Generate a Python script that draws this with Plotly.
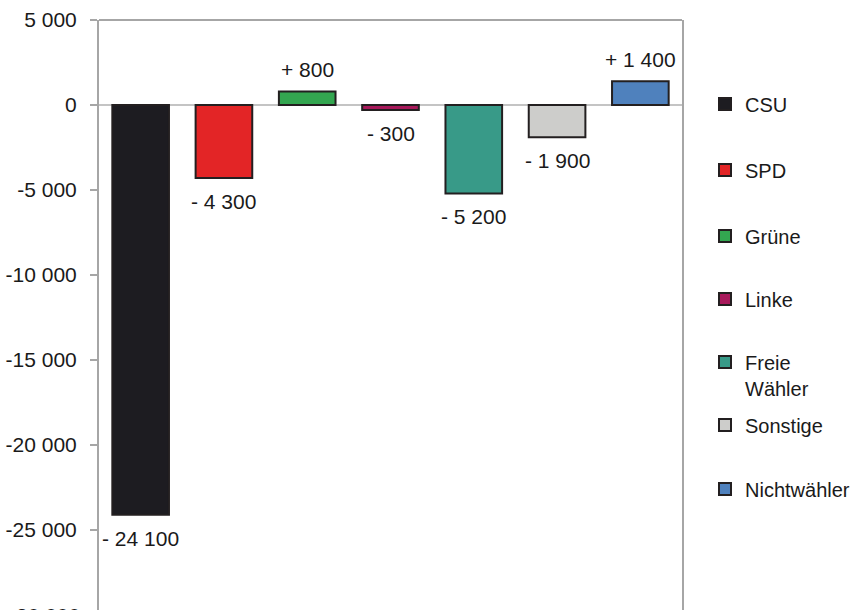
import plotly.graph_objects as go

# ---- data ----
parties = ["CSU", "SPD", "Grüne", "Linke", "Freie Wähler", "Sonstige", "Nichtwähler"]
legend_names = ["CSU", "SPD", "Grüne", "Linke", "Freie<br>Wähler", "Sonstige", "Nichtwähler"]
values = [-24100, -4300, 800, -300, -5200, -1900, 1400]
value_labels = ["- 24 100", "- 4 300", "+ 800", "- 300", "- 5 200", "- 1 900", "+ 1 400"]
tick_vals = [5000, 0, -5000, -10000, -15000, -20000, -25000, -30000]
tick_text = ["5 000", "0", "-5 000", "-10 000", "-15 000", "-20 000", "-25 000", "-30 000"]

# ---- styles ----
colors = ["#1d1c21", "#e32526", "#33a650", "#a8195b", "#389a88", "#cdcdcb", "#4f81bd"]
FONT = "Liberation Sans, Arial, sans-serif"
FS = 21
LFS = 20
TXT = "#1a1a1a"
AXC = "#a6a6a6"
W, H = 856, 610
M_L, M_R, M_T, M_B = 99, 174, 20, 0
plot_h = H - M_T - M_B
legend_y_px = [104, 170, 236, 299, 375, 425, 489]

fig = go.Figure()
for i, (p, v, c) in enumerate(zip(parties, values, colors)):
    lg = "legend" if i == 0 else f"legend{i+1}"
    fig.add_trace(go.Bar(
        x=[p], y=[v], name=legend_names[i], width=0.68,
        marker=dict(color=c, line=dict(color="#231f20", width=2)),
        legend=lg, hoverinfo="skip",
    ))
    fig.add_annotation(
        x=p, y=v, xref="x", yref="y", text=value_labels[i], showarrow=False,
        yanchor="top" if v < 0 else "bottom",
        yshift=-10 if v < 0 else 8,
        font=dict(family=FONT, size=FS, color=TXT),
    )

legends = {}
for i, ypx in enumerate(legend_y_px):
    key = "legend" if i == 0 else f"legend{i+1}"
    legends[key] = dict(
        x=1.0 + (705 - (W - M_R)) / (W - M_L - M_R), xanchor="left",
        y=(H - M_B - ypx) / plot_h, yanchor="middle",
        font=dict(family=FONT, size=LFS, color=TXT),
        bgcolor="rgba(0,0,0,0)", borderwidth=0, valign="top",
    )

# partially visible lowest tick label
fig.add_annotation(
    x=0, xref="paper", y=(H - M_B - 615) / plot_h, yref="paper",
    text=tick_text[-1], showarrow=False, xanchor="right", yanchor="middle",
    xshift=-17, font=dict(family=FONT, size=FS, color=TXT),
)

# top border of plot frame
fig.add_shape(type="line", xref="paper", yref="paper", x0=0, x1=1, y0=1, y1=1,
              line=dict(color=AXC, width=2))

fig.update_layout(
    width=W, height=H,
    margin=dict(l=M_L, r=M_R, t=M_T, b=M_B, pad=0),
    paper_bgcolor="white", plot_bgcolor="white",
    barmode="overlay",
    font=dict(family=FONT, size=FS, color=TXT),
    xaxis=dict(showticklabels=False, ticks="", showgrid=False, zeroline=False,
               showline=False, range=[-0.5, 6.5]),
    yaxis=dict(range=[-29706, 5000], tickvals=tick_vals, ticktext=tick_text,
               showgrid=False, zeroline=True, zerolinecolor="#c4c4c4", zerolinewidth=1.5,
               showline=True, mirror=True, linecolor=AXC, linewidth=2,
               ticks="outside", ticklen=7, tickwidth=1.5, tickcolor=AXC,
               ticklabelstandoff=9,
               tickfont=dict(family=FONT, size=FS, color=TXT)),
    showlegend=True,
    **legends,
)

fig.write_html("out.html")
